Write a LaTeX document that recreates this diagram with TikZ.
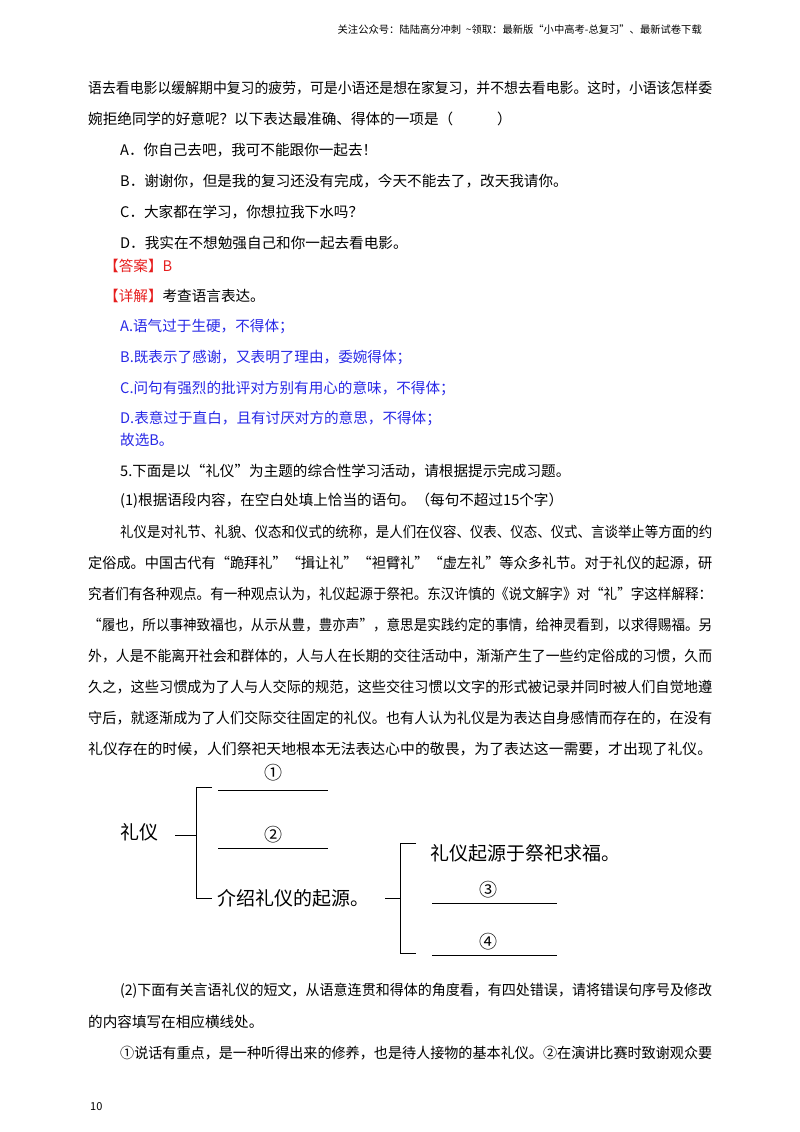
\documentclass[tikz,border=0pt]{standalone}
\usepackage{fontspec}
\usepackage{graphicx}
\setmainfont{Noto Sans CJK SC}
\definecolor{ansred}{RGB}{230,30,30}
\definecolor{expblue}{RGB}{40,40,230}
\tikzset{txt/.style={anchor=west,inner sep=0pt,font=\fontsize{14.6pt}{16pt}\selectfont},
 ln/.style={line width=0.9pt}}
\newcommand{\full}[1]{\resizebox{624pt}{\height}{#1}}
\newcommand{\fullb}[1]{\resizebox{592pt}{\height}{#1}}
\begin{document}
\begin{tikzpicture}[x=1pt,y=-1pt]
\useasboundingbox (0,0) rectangle (800,1132);
\node[anchor=east,inner sep=0pt,font=\fontsize{10.3pt}{12pt}\selectfont] (hdr) at (702,30) {关注公众号：陆陆高分冲刺\ \ \textasciitilde 领取：最新版“小中高考-总复习”、最新试卷下载};
\node[txt] at (88,88) {\full{语去看电影以缓解期中复习的疲劳，可是小语还是想在家复习，并不想去看电影。这时，小语该怎样委}};
\node[txt] at (88,119) {婉拒绝同学的好意呢？以下表达最准确、得体的一项是（\hspace{3em}）};
\node[txt] at (120,150) {A．你自己去吧，我可不能跟你一起去！};
\node[txt] at (120,181) {B．谢谢你，但是我的复习还没有完成，今天不能去了，改天我请你。};
\node[txt] at (120,212) {C．大家都在学习，你想拉我下水吗？};
\node[txt] at (120,243) {D．我实在不想勉强自己和你一起去看电影。};
\node[txt,text=ansred] at (104,266) {【答案】B};
\node[txt] at (104,296) {\textcolor{ansred}{【详解】}考查语言表达。};
\node[txt,text=expblue] at (120,327) {A.语气过于生硬，不得体；};
\node[txt,text=expblue] at (120,357) {B.既表示了感谢，又表明了理由，委婉得体；};
\node[txt,text=expblue] at (120,388) {C.问句有强烈的批评对方别有用心的意味，不得体；};
\node[txt,text=expblue] at (120,418) {D.表意过于直白，且有讨厌对方的意思，不得体；};
\node[txt,text=expblue] at (120,440) {故选B。};
\node[txt] at (120,471) {5.下面是以“礼仪”为主题的综合性学习活动，请根据提示完成习题。};
\node[txt] at (120,501) {(1)根据语段内容，在空白处填上恰当的语句。（每句不超过15个字）};
\node[txt] at (120,532) {\fullb{礼仪是对礼节、礼貌、仪态和仪式的统称，是人们在仪容、仪表、仪态、仪式、言谈举止等方面的约}};
\node[txt] at (88,563) {\full{定俗成。中国古代有“跪拜礼”“揖让礼”“袒臂礼”“虚左礼”等众多礼节。对于礼仪的起源，研}};
\node[txt] at (88,594) {\full{究者们有各种观点。有一种观点认为，礼仪起源于祭祀。东汉许慎的《说文解字》对“礼”字这样解释：}};
\node[txt] at (88,625) {\full{“履也，所以事神致福也，从示从豊，豊亦声”，意思是实践约定的事情，给神灵看到，以求得赐福。另}};
\node[txt] at (88,656) {\full{外，人是不能离开社会和群体的，人与人在长期的交往活动中，渐渐产生了一些约定俗成的习惯，久而}};
\node[txt] at (88,687) {\full{久之，这些习惯成为了人与人交际的规范，这些交往习惯以文字的形式被记录并同时被人们自觉地遵}};
\node[txt] at (88,718) {\full{守后，就逐渐成为了人们交际交往固定的礼仪。也有人认为礼仪是为表达自身感情而存在的，在没有}};
\node[txt] at (88,749) {\full{礼仪存在的时候，人们祭祀天地根本无法表达心中的敬畏，为了表达这一需要，才出现了礼仪。}};
% diagram
\node[txt,font=\fontsize{19pt}{20pt}\selectfont] (ly) at (120,832) {礼仪};
\node[font=\fontsize{18pt}{20pt}\selectfont,inner sep=0pt] (c1) at (273,773) {①};
\node[font=\fontsize{18pt}{20pt}\selectfont,inner sep=0pt] (c2) at (273,835) {②};
\node[txt,font=\fontsize{19pt}{20pt}\selectfont] (src) at (217,898) {介绍礼仪的起源。};
\node[txt,font=\fontsize{19pt}{20pt}\selectfont] (ji) at (430,853) {礼仪起源于祭祀求福。};
\node[font=\fontsize{18pt}{20pt}\selectfont,inner sep=0pt] (c3) at (488,890) {③};
\node[font=\fontsize{18pt}{20pt}\selectfont,inner sep=0pt] (c4) at (488,942) {④};
\draw[ln] (218,790) -- (328,790);
\draw[ln] (218,848) -- (328,848);
\draw[ln] (432,903) -- (557,903);
\draw[ln] (432,955) -- (557,955);
\draw[ln] (175,835) -- (196,835);
\draw[ln] (212,787) -- (196,787) -- (196,898) -- (212,898);
\draw[ln] (385,898) -- (400,898);
\draw[ln] (416,843) -- (400,843) -- (400,953) -- (416,953);
\node[txt] at (120,991) {\fullb{(2)下面有关言语礼仪的短文，从语意连贯和得体的角度看，有四处错误，请将错误句序号及修改}};
\node[txt] at (88,1022) {的内容填写在相应横线处。};
\node[txt] at (120,1053) {\fullb{①说话有重点，是一种听得出来的修养，也是待人接物的基本礼仪。②在演讲比赛时致谢观众要}};
\node[anchor=west,inner sep=0pt,font=\fontsize{11pt}{12pt}\selectfont] (pg) at (90,1107) {10};
\end{tikzpicture}
\end{document}
